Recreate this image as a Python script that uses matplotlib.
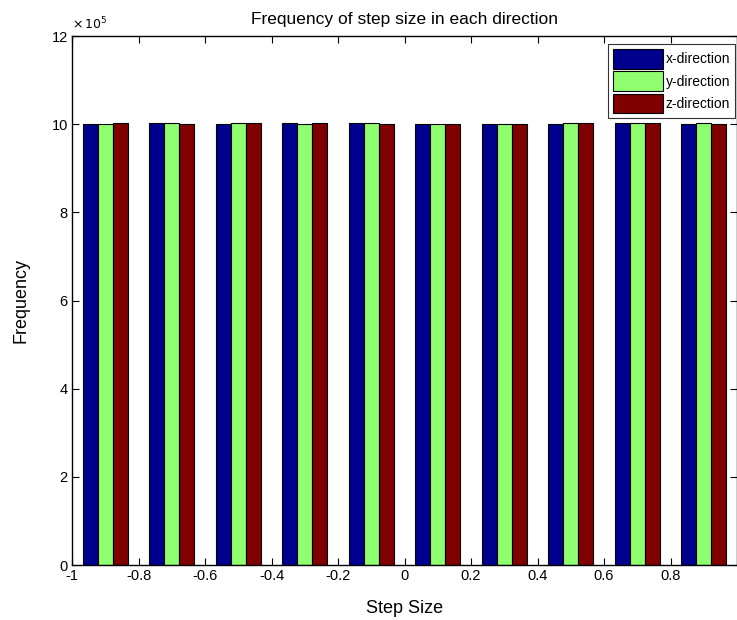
import matplotlib
matplotlib.use("Agg")
import matplotlib.pyplot as plt
import numpy as np

plt.rcParams['font.family'] = ['Liberation Sans', 'DejaVu Sans']

centers = [-0.9, -0.7, -0.5, -0.3, -0.1, 0.1, 0.3, 0.5, 0.7, 0.9]
x_counts = [999800, 1002600, 999800, 1002600, 1002600, 999800, 999800, 999800, 1002600, 999800]
y_counts = [999800, 1002600, 1002600, 999800, 1002600, 999800, 999800, 1002600, 1002600, 1002600]
z_counts = [1002600, 999800, 1002600, 1002600, 999800, 999800, 999800, 1002600, 1002600, 999800]
series_names = ['x-direction', 'y-direction', 'z-direction']
colors = ['#00008F', '#8FFF70', '#800000']

fig = plt.figure(figsize=(7.37, 6.2), dpi=100)
ax = fig.add_axes([0.0977, 0.0887, 0.9023, 0.853])

c = np.array(centers)
w = 0.045
for i, (vals, name, col) in enumerate(zip([x_counts, y_counts, z_counts], series_names, colors)):
    ax.bar(c + (i - 1) * w, np.array(vals) / 1e5, width=w, color=col,
           edgecolor='black', linewidth=0.8, label=name)

ax.set_xlim(-1, 1)
ax.set_ylim(0, 12)
ax.set_xticks([-1, -0.8, -0.6, -0.4, -0.2, 0, 0.2, 0.4, 0.6, 0.8])
ax.set_xticklabels(['-1', '-0.8', '-0.6', '-0.4', '-0.2', '0', '0.2', '0.4', '0.6', '0.8'])
ax.set_yticks([0, 2, 4, 6, 8, 10, 12])
ax.tick_params(direction='in', top=True, right=True, labelsize=10.5, length=5, pad=3)
for s in ax.spines.values():
    s.set_linewidth(1.0)

ax.set_title('Frequency of step size in each direction', fontsize=12.5, pad=9)
ax.set_xlabel('Step Size', fontsize=13, labelpad=12)
ax.set_ylabel('Frequency', fontsize=13, labelpad=16)
ax.text(0.0, 1.008, r'$\times\,10^{5}$', transform=ax.transAxes, fontsize=9,
        ha='left', va='bottom')

leg = ax.legend(loc='upper right', fontsize=10, frameon=True, fancybox=False,
                edgecolor='black', handlelength=3.6, handleheight=1.8,
                handletextpad=0.2, borderpad=0.35, labelspacing=0.2,
                bbox_to_anchor=(0.997, 0.985), borderaxespad=0)
leg.get_frame().set_linewidth(0.8)

fig.savefig('out.png', dpi=100)
